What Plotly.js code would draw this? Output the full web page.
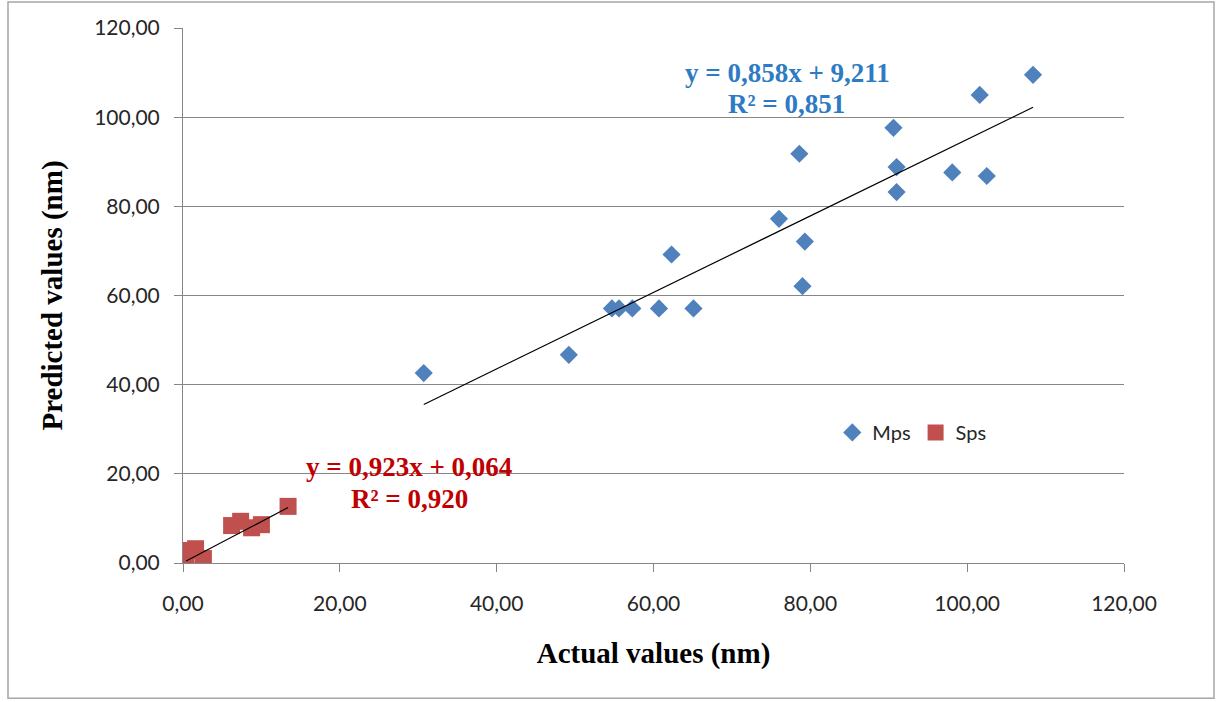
<!DOCTYPE html>
<html>
<head>
<meta charset="utf-8">
<script src="https://cdn.plot.ly/plotly-3.0.1.min.js"></script>
<style>html,body{margin:0;padding:0;background:#fff;}#chart{width:1232px;height:702px;}</style>
</head>
<body>
<div id="chart"></div>
<script>
// Mps series (actual vs predicted, nm)
var mpsX = [30.7, 49.2, 54.7, 55.6, 57.3, 60.7, 65.1, 62.3, 108.4, 101.6, 90.6, 78.6, 91.0, 98.1, 102.5, 91.0, 76.0, 79.3, 79.0];
var mpsY = [42.6, 46.7, 57.1, 57.1, 57.1, 57.1, 57.1, 69.2, 109.5, 105.0, 97.6, 91.8, 88.8, 87.6, 86.8, 83.2, 77.2, 72.1, 62.1];
// Sps series
var spsX = [0.4, 0.5, 1.6, 2.6, 6.2, 7.35, 8.75, 10.0, 13.4];
var spsY = [0.9, 2.8, 3.2, 1.0, 8.4, 9.35, 7.9, 8.6, 12.7];
// Linear trend coefficients [slope, intercept] and R²
var mpsFit = [0.858, 9.211];
var spsFit = [0.923, 0.064];
var mpsR2 = 0.851;
var spsR2 = 0.920;
var seriesNames = ["Mps", "Sps"];
var tickVals = [0, 20, 40, 60, 80, 100, 120];

function fmt(v){ return v.toFixed(3).replace('.', ','); }
function trend(xs, fit){
  var lo = Math.min.apply(null, xs), hi = Math.max.apply(null, xs);
  return {x:[lo, hi], y:[fit[0]*lo + fit[1], fit[0]*hi + fit[1]]};
}
var tm = trend(mpsX, mpsFit), ts = trend(spsX, spsFit);

var traces = [
  {x: mpsX, y: mpsY, name: seriesNames[0], mode:'markers', type:'scatter',
   marker:{symbol:'diamond', size:14, color:'#4F81BD'}},
  {x: spsX, y: spsY, name: seriesNames[1], mode:'markers', type:'scatter',
   marker:{symbol:'square', size:17, color:'#C0504D'}},
  {x: tm.x, y: tm.y, mode:'lines', line:{color:'#000', width:1.2}, showlegend:false, hoverinfo:'skip'},
  {x: ts.x, y: ts.y, mode:'lines', line:{color:'#000', width:1.2}, showlegend:false, hoverinfo:'skip'}
];

var tickFont = {family:'Lato, "Open Sans", sans-serif', size:21, color:'#262626'};
var titleFont = {family:'"Liberation Serif", "Times New Roman", serif', size:29, color:'#000', weight:'bold'};
var eqFont = function(c){ return {family:'"Liberation Serif", serif', size:27, color:c, weight:'bold'}; };

function px(x){ return (x-183)/941; }
function py(y){ return (563.5-y)/535.5; }

var layout = {
  width:1232, height:702,
  margin:{l:183, r:108, t:28, b:138.5, pad:0},
  paper_bgcolor:'#fff', plot_bgcolor:'#fff',
  separators:', ',
  showlegend:true,
  legend:{orientation:'h', x:0.69, xanchor:'left', y:0.244, yanchor:'middle',
    font:{family:'Lato, "Open Sans", sans-serif', size:20, color:'#262626'}, bgcolor:'rgba(0,0,0,0)'},
  xaxis:{range:[0,120], tickvals:tickVals, tickformat:'.2f', showgrid:false, zeroline:false,
    showline:true, linecolor:'#868686', linewidth:1, ticks:'outside', ticklen:8, tickcolor:'#868686',
    tickfont:tickFont, ticklabelstandoff:14,
    title:{text:'Actual values (nm)', font:titleFont, standoff:28}},
  yaxis:{range:[0,120], tickvals:tickVals, tickformat:'.2f', showgrid:true, gridcolor:'#868686', gridwidth:1,
    zeroline:false, showline:true, linecolor:'#868686', linewidth:1, ticks:'outside', ticklen:8, tickcolor:'#868686',
    tickfont:tickFont, ticklabelstandoff:10,
    title:{text:'Predicted values (nm)', font:titleFont, standoff:22}},
  shapes:[{type:'rect', xref:'paper', yref:'paper', x0:px(8), x1:px(1214), y0:py(699), y1:py(2),
    line:{color:'#A6A6A6', width:1.5}, fillcolor:'rgba(0,0,0,0)', layer:'below'}],
  annotations:[
    {xref:'paper', yref:'paper', x:px(787), y:py(73), xanchor:'center', yanchor:'middle', showarrow:false,
     text:'y = ' + fmt(mpsFit[0]) + 'x + ' + fmt(mpsFit[1]), font:eqFont('#2E7BC4')},
    {xref:'paper', yref:'paper', x:px(786), y:py(104), xanchor:'center', yanchor:'middle', showarrow:false,
     text:'R² = ' + fmt(mpsR2), font:eqFont('#2E7BC4')},
    {xref:'paper', yref:'paper', x:px(409), y:py(467), xanchor:'center', yanchor:'middle', showarrow:false,
     text:'y = ' + fmt(spsFit[0]) + 'x + ' + fmt(spsFit[1]), font:eqFont('#C00000')},
    {xref:'paper', yref:'paper', x:px(409), y:py(499), xanchor:'center', yanchor:'middle', showarrow:false,
     text:'R² = ' + fmt(spsR2), font:eqFont('#C00000')}
  ]
};
Plotly.newPlot('chart', traces, layout, {displayModeBar:false, staticPlot:true});
</script>
</body>
</html>
